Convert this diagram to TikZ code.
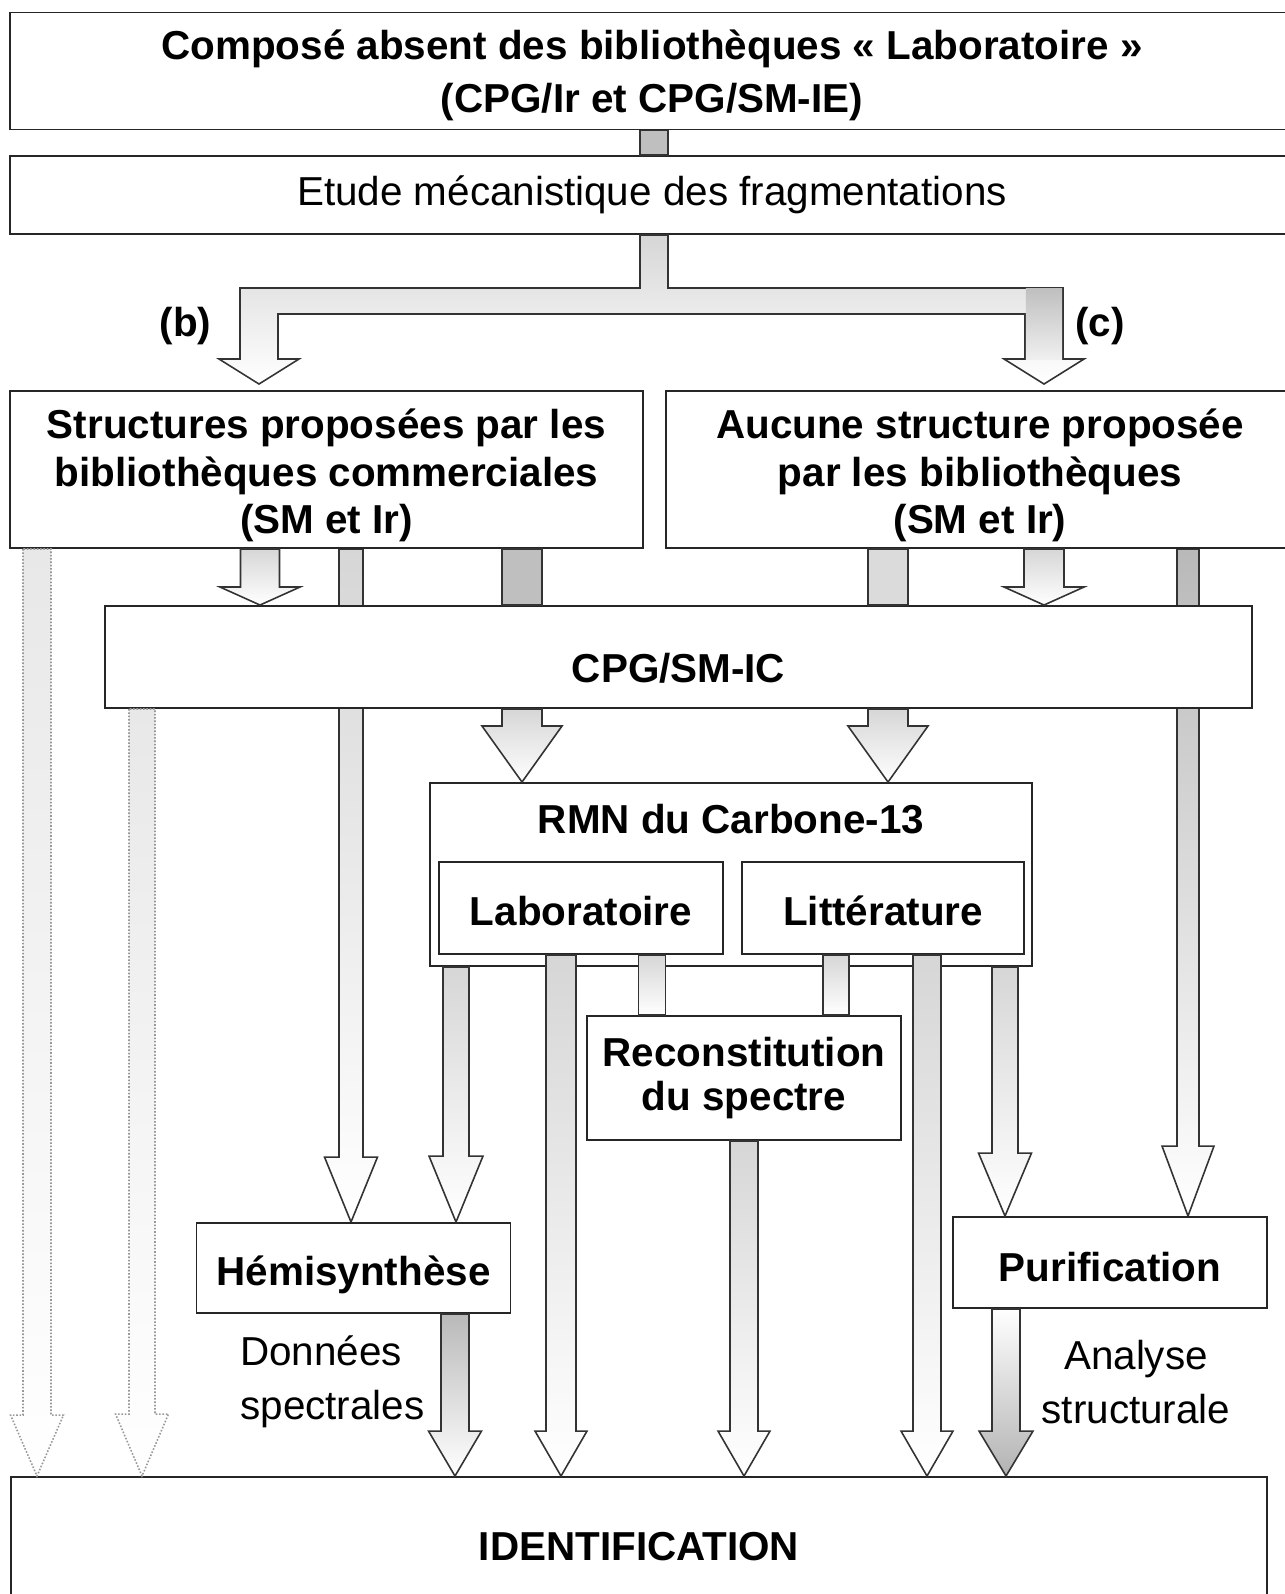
\documentclass[tikz,border=0pt]{standalone}
\usepackage{fontspec}
\setmainfont{Liberation Sans}
\usetikzlibrary{calc,backgrounds}

\newcommand{\pxu}{0.02cm}
% strut that pushes a box's text down
\newcommand{\padtop}[1]{\rule{0pt}{#1}}
% [style]{x}{half shaft}{half head}{head length}{from}{to}
\newcommand{\fatarrow}[7][]{%
  \coordinate (fa-x) at (#2,0);
  \path (#6.south -| fa-x) coordinate (fa-s) (#7.north -| fa-x) coordinate (fa-t);
  \path[#1] ($(fa-s)+(-#3,0)$) -- ($(fa-t)+(-#3,-#5)$) -- ($(fa-t)+(-#4,-#5)$) -- (fa-t)
    -- ($(fa-t)+(#4,-#5)$) -- ($(fa-t)+(#3,-#5)$) -- ($(fa-s)+(#3,0)$) -- cycle;
}
% [style]{x}{half width}{from}{to}
\newcommand{\fatbar}[5][]{%
  \coordinate (fa-x) at (#2,0);
  \path[#1] ($(#4.south -| fa-x)+(-#3,0)$) rectangle ($(#5.north -| fa-x)+(#3,0)$);
}

\tikzset{
  box/.style={draw=black!85, line width=1.1pt, fill=white, inner sep=0pt, align=center,
    font=\fontsize{23}{27}\selectfont\bfseries},
  plain/.style={font=\fontsize{23}{31}\selectfont, inner sep=0pt},
  tag/.style={font=\fontsize{23}{27}\selectfont\bfseries, inner sep=0pt},
  pipe/.style={draw=black!80, line width=0.9pt, top color=gray!32, bottom color=white},
  pipedark/.style={pipe, top color=gray!55},
  pipedown/.style={pipe, top color=white, bottom color=gray!60},
  pipeflat/.style={draw=black!80, line width=0.9pt, fill=gray!50},
  pipepale/.style={draw=black!80, line width=0.9pt, fill=gray!28},
  ghost/.style={draw=gray!80, densely dotted, line width=0.9pt, top color=gray!18, bottom color=white},
}

\begin{document}
\begin{tikzpicture}[x=\pxu, y=-\pxu]
  \useasboundingbox (0,0) rectangle (1284,1594);

  % boxes
  \node[box, minimum width=1284*\pxu, minimum height=117*\pxu, font=\fontsize{23}{30}\selectfont\bfseries]
    (top) at (652,71) {\padtop{22pt}Composé absent des bibliothèques « Laboratoire »\\(CPG/Ir et CPG/SM-IE)};
  \node[box, minimum width=1284*\pxu, minimum height=78*\pxu, font=\fontsize{23}{27}\selectfont]
    (etude) at (652,195) {Etude mécanistique des fragmentations};
  \node[box, minimum width=633*\pxu, minimum height=157*\pxu]
    (struct) at (326.5,469.5) {\padtop{24pt}Structures proposées par les\\bibliothèques commerciales\\(SM et Ir)};
  \node[box, minimum width=628*\pxu, minimum height=157*\pxu]
    (aucune) at (980,469.5) {\padtop{24pt}Aucune structure proposée\\par les bibliothèques\\(SM et Ir)};
  \node[box, minimum width=1147*\pxu, minimum height=102*\pxu]
    (cpg) at (678.5,657) {\padtop{29pt}CPG/SM-IC};
  \node[box, minimum width=602*\pxu, minimum height=183*\pxu] (rmn) at (731,874.5) {};
  \node[tag] (rmntitle) at (731,819) {RMN du Carbone-13};
  \node[box, minimum width=284*\pxu, minimum height=92*\pxu] (labo) at (581,908) {\padtop{20pt}Laboratoire};
  \node[box, minimum width=282*\pxu, minimum height=92*\pxu] (litt) at (883,908) {\padtop{20pt}Littérature};
  \node[box, minimum width=314*\pxu, minimum height=124*\pxu, font=\fontsize{23}{25}\selectfont\bfseries]
    (recon) at (744,1078) {Reconstitution\\du spectre};
  \node[box, minimum width=314*\pxu, minimum height=90*\pxu] (hemi) at (353.5,1268) {\padtop{25pt}Hémisynthèse};
  \node[box, minimum width=314*\pxu, minimum height=91*\pxu] (purif) at (1110,1262.5) {\padtop{21.5pt}Purification};
  \node[box, minimum width=1256*\pxu, minimum height=140*\pxu] (ident) at (639,1547) {IDENTIFICATION};

  % labels
  \node[tag] (b) at (185.5,326) {(b)};
  \node[tag] (c) at (1100,326) {(c)};
  \node[plain, anchor=west, align=left] (donnees) at (240,1382) {Données\\spectrales};
  \node[plain, align=center] (analyse) at (1136,1382) {Analyse\\structurale};

  % arrows passing behind CPG/SM-IC
  \begin{pgfonlayer}{background}
    \fatarrow[pipe]{351}{12}{26.5}{65}{struct}{hemi}
    \fatarrow[pipedark]{1188}{11}{26}{70}{aucune}{purif}
  \end{pgfonlayer}

  % top part
  \fatbar[pipeflat]{654}{14}{top}{etude}
  \coordinate (bx) at (259,0);
  \coordinate (cx) at (1044,0);
  \coordinate (fork) at ($(etude.south)+(2,53)$);
  \path[pipe] ($(fork |- etude.south)+(-14,0)$) -- ($(fork)+(-14,0)$) -- ($(fork -| bx)+(-19,0)$)
    -- ($(struct.north -| bx)+(-19,-31)$) -- ($(struct.north -| bx)+(-40,-31)$)
    -- ($(struct.north -| bx)+(0,-6)$) -- ($(struct.north -| bx)+(40,-31)$)
    -- ($(struct.north -| bx)+(19,-31)$) -- ($(fork -| bx)+(19,26)$)
    -- ($(fork -| cx)+(-19,26)$) -- ($(aucune.north -| cx)+(-19,-31)$)
    -- ($(aucune.north -| cx)+(-40,-31)$) -- ($(aucune.north -| cx)+(0,-6)$)
    -- ($(aucune.north -| cx)+(40,-31)$) -- ($(aucune.north -| cx)+(19,-31)$)
    -- ($(fork -| cx)+(19,0)$) -- ($(fork)+(14,0)$) -- ($(fork |- etude.south)+(14,0)$) -- cycle;
  \shade[top color=gray!50, bottom color=gray!12]
    ($(fork -| cx)+(-18.2,0.8)$) rectangle ($(aucune.north -| cx)+(18.2,-31)$);

  % into CPG/SM-IC
  \fatarrow[pipe]{260}{19.5}{40}{18}{struct}{cpg}
  \fatbar[pipeflat]{522}{20}{struct}{cpg}
  \fatbar[pipepale]{888}{20}{aucune}{cpg}
  \fatarrow[pipe]{1044}{20}{40}{18}{aucune}{cpg}

  % dotted shortcuts
  \fatarrow[ghost]{37}{14}{26.5}{61}{struct}{ident}
  \fatarrow[ghost]{142}{13}{26.5}{62}{cpg}{ident}

  % RMN
  \foreach \xa in {522,888}
    {\fatarrow[pipe]{\xa}{20}{40}{56}{cpg}{rmn}}
  \fatarrow[pipe]{456}{13}{27}{66}{rmn}{hemi}
  \fatarrow[pipe]{1005}{13}{26.5}{63}{rmn}{purif}
  \fatbar[pipe]{652}{13.5}{labo}{recon}
  \fatbar[pipe]{836}{13}{litt}{recon}

  % into IDENTIFICATION
  \foreach \src/\xa/\w in {labo/561/15, recon/744/14, litt/927/14}
    {\fatarrow[pipe]{\xa}{\w}{26}{45}{\src}{ident}}
  \fatarrow[pipedark]{455}{14}{26.5}{45}{hemi}{ident}
  \fatarrow[pipedown]{1006}{14}{27}{45}{purif}{ident}
\end{tikzpicture}
\end{document}
